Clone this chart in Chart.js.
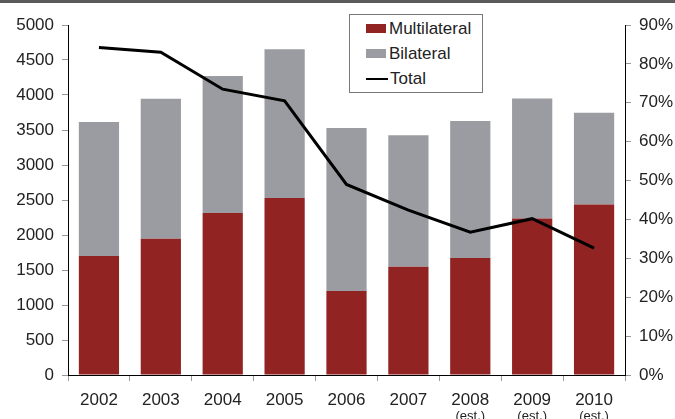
<!DOCTYPE html>
<html>
<head>
<meta charset="utf-8">
<script src="https://cdn.jsdelivr.net/npm/chart.js@4"></script>
<style>
html,body{margin:0;padding:0;background:#fff}
#wrap{position:relative;width:675px;height:419px;overflow:hidden}
#topbar{position:absolute;left:0;top:0;width:675px;height:3px;background:#5a5a5a}
#legend{position:absolute;left:349px;top:14px;width:132px;height:77px;border:1px solid #777;background:#fff;font-family:"Liberation Sans",Arial,sans-serif;font-size:17px;color:#222}
.row{position:absolute;left:16px;height:20px;line-height:20px}
.sw{display:inline-block;width:20px;height:9px;vertical-align:middle;margin-right:3px;position:relative;top:-1px}
.ln{display:inline-block;width:22px;height:2px;background:#000;vertical-align:middle;margin-right:2px;position:relative;top:-1px}
</style>
</head>
<body>
<div id="wrap">
<canvas id="chart" width="675" height="419"></canvas>
<div id="topbar"></div>
<div id="legend">
<div class="row" style="top:4px"><span class="sw" style="background:#912323"></span>Multilateral</div>
<div class="row" style="top:29px"><span class="sw" style="background:#9b9ca1"></span>Bilateral</div>
<div class="row" style="top:54px"><span class="ln"></span>Total</div>
</div>
</div>
<script>
const years = ["2002","2003","2004","2005","2006","2007","2008","2009","2010"]
const notes = ["","","","","","","(est.)","(est.)","(est.)"]
const multilateral = [1700,1945,2315,2530,1200,1545,1670,2235,2435]
const bilateral = [1915,2000,1955,2125,2330,1880,1960,1715,1310]
const total = [84.2,83.0,73.5,70.5,49.0,42.4,36.7,40.2,32.6]
const leftTicks = [0,500,1000,1500,2000,2500,3000,3500,4000,4500,5000]
const rightTicks = [0,10,20,30,40,50,60,70,80,90]

const font = {family:"'Liberation Sans', Arial, sans-serif", size:17}

// small "(est.)" under the last three years
const notePlugin = {
id:"notes",
afterDraw(chart){
const ctx = chart.ctx
const x = chart.scales.x
ctx.save()
ctx.font = "13px 'Liberation Sans', Arial, sans-serif"
ctx.fillStyle = "#222"
ctx.textAlign = "center"
ctx.textBaseline = "middle"
notes.forEach(function(n,i){
if(n) ctx.fillText(n, x.getPixelForValue(i), 416)
})
ctx.restore()
}
}

const ctx = document.getElementById("chart").getContext("2d")

new Chart(ctx,{
type:"bar",
data:{
labels:years,
datasets:[
{
type:"line",
label:"Total",
data:total,
yAxisID:"y1",
borderColor:"#000",
borderWidth:3,
pointRadius:0,
tension:0,
order:0
},
{
label:"Multilateral",
data:multilateral,
backgroundColor:"#912323",
stack:"s",
barPercentage:0.65,
categoryPercentage:1,
order:1
},
{
label:"Bilateral",
data:bilateral,
backgroundColor:"#9b9ca1",
stack:"s",
barPercentage:0.65,
categoryPercentage:1,
order:1
}
]
},
options:{
responsive:false,
animation:false,
layout:{padding:{top:25,left:0,right:0,bottom:0}},
plugins:{legend:{display:false},tooltip:{enabled:false}},
scales:{
x:{
stacked:true,
offset:true,
grid:{display:true,drawOnChartArea:false,offset:true,tickLength:6,color:"#999"},
border:{color:"#000",width:1},
ticks:{font:font,color:"#222",padding:9,maxRotation:0},
afterFit(s){s.height=44}
},
y:{
stacked:true,
min:0,
max:5000,
afterBuildTicks(s){s.ticks=leftTicks.map(v=>({value:v}))},
grid:{drawOnChartArea:false,tickLength:6,color:"#999"},
border:{color:"#000",width:1},
ticks:{font:font,color:"#222",padding:8,callback:v=>String(v)},
afterFit(s){s.width=68}
},
y1:{
position:"right",
min:0,
max:90,
afterBuildTicks(s){s.ticks=rightTicks.map(v=>({value:v}))},
grid:{drawOnChartArea:false,tickLength:6,color:"#999"},
border:{color:"#000",width:1},
ticks:{font:font,color:"#222",padding:8,callback:v=>v+"%"},
afterFit(s){s.width=50}
}
}
},
plugins:[notePlugin]
})
</script>
</body>
</html>
